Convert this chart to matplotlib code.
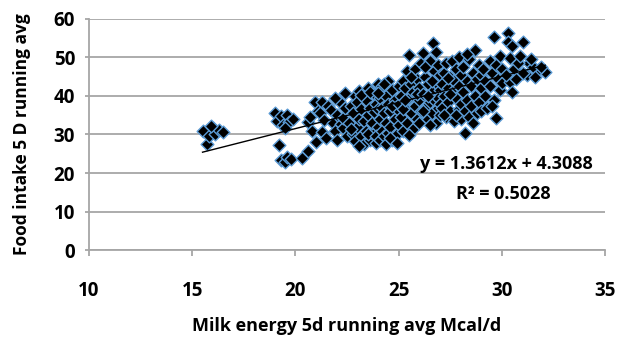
import matplotlib
matplotlib.use("Agg")
import matplotlib.pyplot as plt
import numpy as np

# milk energy (Mcal/d) vs food intake, 5 day running averages
milk_energy = [
    15.5, 15.7, 15.8, 16.0, 16.1, 16.3, 16.5, 15.9,
    19.0, 19.1, 19.3, 19.4, 19.6, 19.7, 19.9, 19.5,
    19.2, 19.3, 19.5, 19.6, 19.8, 20.3, 20.6,
    20.6, 20.8, 20.95, 21.1, 21.2, 21.3, 21.3, 21.4, 21.5, 21.6, 21.7, 21.8, 21.9,
    22.0, 22.0, 22.1, 22.2, 22.3, 22.3, 22.4, 22.4, 22.5, 21.0, 20.7, 21.9,
    22.6, 22.7, 22.8, 22.8, 22.9, 22.9, 23.0, 23.0, 23.1, 23.1, 23.2, 23.2, 23.3,
    23.3, 23.4, 23.4, 23.5, 23.5, 23.6, 23.6, 23.7, 23.7, 23.8, 23.8, 23.9, 23.9,
    24.0, 24.0, 23.2, 22.7, 23.5, 23.9, 24.0, 23.1, 23.6,
    24.1, 24.1, 24.1, 24.2, 24.2, 24.2, 24.3, 24.3, 24.4, 24.4, 24.4, 24.5, 24.5,
    24.5, 24.6, 24.6, 24.7, 24.7, 24.8, 24.8, 24.9, 24.9, 25.0, 25.0, 24.3, 24.6,
    24.9, 24.0, 24.7, 25.0,
    25.1, 25.1, 25.2, 25.2, 25.3, 25.3, 25.4, 25.4, 25.5, 25.5, 25.6, 25.6, 25.7,
    25.7, 25.8, 25.8, 25.9, 25.9, 26.0, 26.0, 26.1, 26.1, 25.2, 25.5, 25.9, 26.0,
    25.3, 25.6,
    26.2, 26.2, 26.3, 26.3, 26.4, 26.4, 26.5, 26.5, 26.6, 26.6, 26.67, 26.7, 26.7,
    26.8, 26.8, 26.9, 26.9, 27.0, 27.0, 27.0, 26.3, 26.5, 26.8, 26.2, 26.9, 26.4,
    27.0, 26.6,
    27.1, 27.1, 27.2, 27.2, 27.3, 27.3, 27.4, 27.4, 27.5, 27.5, 27.6, 27.6, 27.7,
    27.7, 27.8, 27.8, 27.9, 27.9, 28.0, 28.0, 28.0, 27.2, 27.5, 27.8, 27.9, 27.4,
    28.1, 28.1, 28.2, 28.2, 28.3, 28.3, 28.4, 28.4, 28.5, 28.5, 28.6, 28.7, 28.7,
    28.8, 28.8, 28.9, 28.9, 29.0, 29.0, 28.6, 28.3, 29.0,
    29.1, 29.2, 29.2, 29.3, 29.4, 29.4, 29.5, 29.6, 29.6, 29.7, 29.7, 29.8, 29.9,
    29.9, 30.0, 29.5, 30.0,
    30.3, 31.0, 30.3, 30.4, 31.3, 32.1, 31.2, 30.4, 30.5, 31.75, 30.6, 30.8, 31.0,
    31.5, 31.6, 31.9, 30.2, 30.7, 31.4, 30.9, 30.5,
]
food_intake = [
    30.8, 27.6, 29.6, 31.8, 30.0, 31.2, 30.6, 32.3,
    35.5, 33.6, 34.8, 32.4, 35.1, 33.2, 34.0, 31.8,
    27.2, 23.3, 22.8, 24.2, 23.6, 24.0, 25.6,
    33.2, 31.0, 38.4, 36.2, 35.6, 38.4, 30.6, 33.8, 29.0, 37.4, 36.4, 33.0, 31.0,
    28.6, 35.0, 38.8, 32.6, 31.7, 34.3, 40.8, 36.8, 29.6, 28.0, 34.6, 39.6,
    33.0, 37.5, 30.0, 35.5, 40.0, 28.2, 32.0, 38.5, 34.0, 41.2, 29.5, 36.5, 27.6,
    33.5, 39.0, 31.0, 35.0, 42.0, 28.5, 37.0, 30.5, 33.0, 40.5, 35.8, 27.8, 38.0,
    32.0, 43.0, 40.2, 31.5, 30.0, 29.5, 36.5, 27.0, 41.0,
    28.5, 34.0, 39.5, 31.0, 37.0, 42.5, 29.5, 35.5, 27.6, 33.0, 40.0, 30.5, 38.0,
    44.0, 32.0, 36.0, 28.5, 41.5, 34.0, 39.0, 30.0, 36.5, 32.5, 42.5, 43.2, 29.2,
    27.8, 40.8, 37.5, 38.0,
    34.5, 40.0, 31.0, 44.0, 37.0, 42.0, 33.0, 46.5, 39.5, 50.6, 35.5, 43.0, 31.5,
    41.0, 37.5, 47.0, 34.0, 44.5, 39.0, 42.0, 36.0, 48.5, 36.5, 29.8, 40.5, 33.0,
    39.0, 45.0,
    51.2, 40.5, 37.0, 45.0, 34.0, 43.0, 38.5, 49.0, 41.0, 35.5, 53.8, 46.5, 39.0,
    33.0, 43.5, 37.0, 48.0, 41.5, 35.0, 45.5, 47.5, 32.5, 51.5, 36.0, 39.5, 40.0,
    38.0, 44.0,
    43.0, 37.0, 46.0, 40.0, 34.5, 48.5, 42.0, 38.5, 45.0, 36.0, 41.0, 49.0, 33.5,
    44.0, 39.5, 47.0, 36.5, 42.5, 45.5, 38.0, 34.0, 35.0, 40.5, 35.0, 50.0, 44.8,
    41.0, 47.5, 30.4, 36.0, 44.0, 39.0, 49.5, 34.5, 42.5, 37.5, 46.0, 52.0, 40.0,
    44.5, 35.5, 48.0, 38.5, 42.0, 45.5, 33.0, 51.0, 36.0,
    47.0, 40.0, 44.0, 36.9, 49.0, 42.5, 46.0, 55.3, 39.0, 34.3, 48.0, 44.5, 50.5,
    41.5, 47.0, 37.5, 43.5,
    56.4, 54.0, 54.0, 49.9, 48.6, 46.2, 45.5, 43.6, 41.0, 46.8, 47.0, 48.5, 46.0,
    47.5, 45.0, 47.5, 45.5, 44.5, 49.5, 50.5, 53.0,
]
slope = 1.3612
intercept = 4.3088
r2 = 0.5028

x_ticks = [10, 15, 20, 25, 30, 35]
y_ticks = [0, 10, 20, 30, 40, 50, 60]

plt.rcParams['font.family'] = ['Open Sans', 'DejaVu Sans']
plt.rcParams['font.weight'] = 'bold'

fig = plt.figure(figsize=(6.2, 3.39), dpi=100)
ax = fig.add_axes([0.1435, 0.2625, 0.8325, 0.6815])

ax.scatter(milk_energy, food_intake, marker='D', s=42, c='black',
           edgecolors='#5b9bd5', linewidths=1.0, zorder=3)

xs = np.array([min(milk_energy), max(milk_energy)])
ax.plot(xs, slope * xs + intercept, color='black', lw=1.0, zorder=4)

ax.text(34.4, 22.3, 'y = %.4fx + %.4f' % (slope, intercept), ha='right',
        va='center', fontsize=13, fontweight='bold', zorder=5)
ax.text(32.35, 14.6, 'R² = %.4f' % r2, ha='right', va='center',
        fontsize=13, fontweight='bold', zorder=5)

ax.set_xlim(10, 35)
ax.set_ylim(0, 60)
ax.set_xticks(x_ticks)
ax.set_yticks(y_ticks)
ax.yaxis.grid(True, color='#a6a6a6', lw=1.3)
ax.set_axisbelow(True)
for s in ['top', 'right']:
    ax.spines[s].set_visible(False)
for s in ['left', 'bottom']:
    ax.spines[s].set_color('#a6a6a6')
    ax.spines[s].set_linewidth(1.3)
ax.tick_params(axis='x', length=4, width=1.3, color='#a6a6a6', pad=18,
               labelsize=13.5)
ax.tick_params(axis='y', length=3, width=1.3, color='#a6a6a6', pad=7,
               labelsize=13.5)

ax.set_xlabel('Milk energy 5d running avg Mcal/d', fontsize=13,
              fontweight='bold', labelpad=12)
ax.set_ylabel('Food intake 5 D running avg', fontsize=12.5, fontweight='bold',
              labelpad=16)

fig.savefig('out.png', dpi=100)
